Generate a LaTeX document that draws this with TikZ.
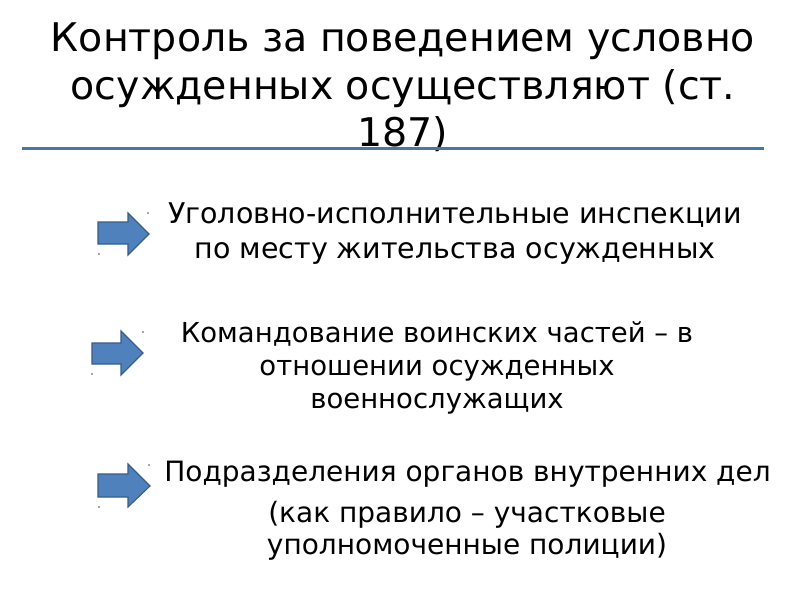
\documentclass[tikz,border=0pt]{standalone}
\usepackage{fontspec}
\setmainfont{DejaVu Sans}
\usepackage{tikz}

\definecolor{arrowfill}{RGB}{79,129,189}
\definecolor{arrowline}{RGB}{56,93,138}
\definecolor{ruleline}{RGB}{74,118,164}

\begin{document}
\begin{tikzpicture}[x=1pt,y=1pt,yscale=-1,xscale=1,
  blockarrow/.style={draw=arrowline,fill=arrowfill,line width=1.1pt,line join=miter},
  handle/.style={fill=black!70,draw=none},
  titletext/.style={inner sep=0pt,align=center,font=\fontsize{39.5}{47.5}\selectfont},
  itemtext/.style={inner sep=0pt,align=center,font=\fontsize{28}{34}\selectfont}]
\useasboundingbox (0,0) rectangle (800,600);
\fill[white] (0,0) rectangle (800,600);

% Text Node
\node[titletext] (title) at (403,87.5) {Контроль за поведением условно\\осужденных осуществляют (ст.\\187)};
%Shape: Line
\draw[ruleline,line width=3pt] (22,148) -- (764,148);

%Shape: Right Arrow
\draw[blockarrow] (98,222) -- (128,222) -- (128,213) -- (149,234) -- (128,255) -- (128,244) -- (98,244) -- cycle;
\fill[handle] (148,213) circle (0.9) (99,254) circle (0.9);
%Shape: Right Arrow
\draw[blockarrow] (92,343) -- (121,343) -- (121,331) -- (143,353) -- (121,375) -- (121,364) -- (92,364) -- cycle;
\fill[handle] (143,332) circle (0.9) (92,374) circle (0.9);
%Shape: Right Arrow
\draw[blockarrow] (98,474) -- (128,474) -- (128,464) -- (150,486) -- (128,507) -- (128,497) -- (98,497) -- cycle;
\fill[handle] (149,465) circle (0.9) (99,507) circle (0.9);

% Text Node
\node[itemtext,font=\fontsize{28.5}{35}\selectfont] (inspect) at (455,233.5) {Уголовно-исполнительные инспекции\\по месту жительства осужденных};
% Text Node
\node[itemtext,font=\fontsize{27.5}{33}\selectfont] (command) at (437,368) {Командование воинских частей – в\\отношении осужденных\\военнослужащих};
% Text Node
\node[itemtext] (police) at (467.5,474) {Подразделения органов внутренних дел};
% Text Node
\node[itemtext,font=\fontsize{28}{32}\selectfont] (officers) at (467,531) {(как правило – участковые\\уполномоченные полиции)};

\end{tikzpicture}
\end{document}
